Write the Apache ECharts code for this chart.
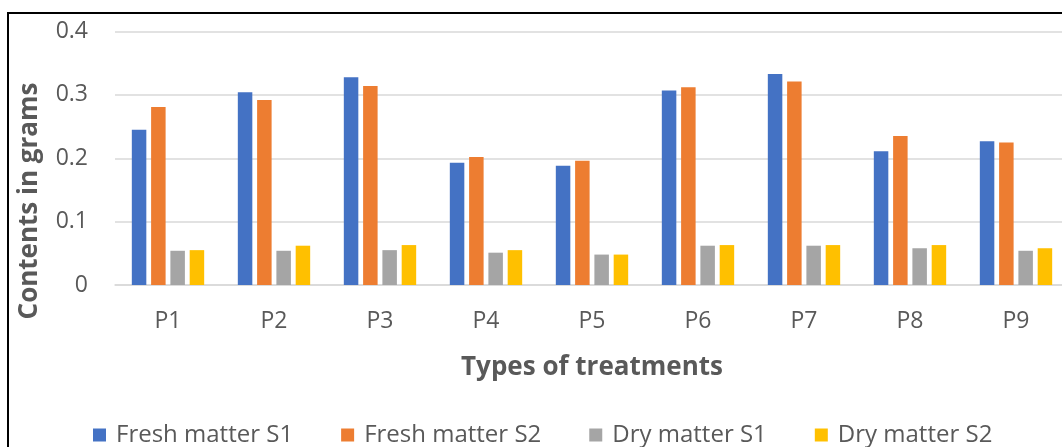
<!DOCTYPE html>
<html>
<head>
<meta charset="utf-8">
<script src="https://cdn.jsdelivr.net/npm/echarts@6/dist/echarts.min.js"></script>
<style>
  html, body { margin: 0; padding: 0; background: #fff; overflow: hidden; }
  #main { width: 1080px; height: 447px; }
</style>
</head>
<body>
<div id="main"></div>
<script>
var categories = ["P1", "P2", "P3", "P4", "P5", "P6", "P7", "P8", "P9"];
var freshS1 = [0.245, 0.304, 0.328, 0.193, 0.188, 0.307, 0.333, 0.211, 0.227];
var freshS2 = [0.281, 0.292, 0.314, 0.202, 0.196, 0.312, 0.321, 0.235, 0.225];
var dryS1 = [0.054, 0.054, 0.055, 0.051, 0.048, 0.062, 0.062, 0.058, 0.054];
var dryS2 = [0.055, 0.062, 0.063, 0.055, 0.048, 0.063, 0.063, 0.063, 0.058];
var yTicks = [0, 0.1, 0.2, 0.3, 0.4];

var fontName = "Open Sans";
var grey = "#595959";

function bar(name, data, color) {
  return {
    name: name,
    type: "bar",
    data: data,
    barWidth: 14.5,
    barGap: "33%",
    itemStyle: { color: color }
  };
}

var chart = echarts.init(document.getElementById("main"));
chart.setOption({
  animation: false,
  textStyle: { fontFamily: fontName },
  grid: { left: 115, top: 31.5, width: 954, height: 253.5 },
  legend: {
    left: 88,
    top: 418,
    itemWidth: 13,
    itemHeight: 13,
    itemGap: 48,
    icon: "rect",
    textStyle: { fontSize: 24, color: grey, fontFamily: fontName, padding: [0, 0, 0, 5] }
  },
  xAxis: {
    type: "category",
    data: categories,
    name: "Types of treatments",
    nameLocation: "middle",
    nameGap: 70,
    nameTextStyle: { fontSize: 26, fontWeight: "bold", color: grey },
    axisLine: { lineStyle: { color: "#d9d9d9", width: 1.5 } },
    axisTick: { show: false },
    axisLabel: { fontSize: 23, color: grey, margin: 25 }
  },
  yAxis: {
    type: "value",
    min: yTicks[0],
    max: yTicks[yTicks.length - 1],
    interval: 0.1,
    axisLine: { show: false },
    axisTick: { show: false },
    axisLabel: { fontSize: 23, color: grey, margin: 27 },
    splitLine: { lineStyle: { color: "#d9d9d9", width: 1.5 } }
  },
  graphic: [
    {
      type: "rect",
      shape: { x: 8, y: 13, width: 1200, height: 600 },
      style: { fill: null, stroke: "#000", lineWidth: 2 },
      silent: true
    },
    {
      type: "text",
      x: 30,
      y: 201,
      rotation: Math.PI / 2,
      style: {
        text: "Contents in grams",
        fontSize: 26,
        fontWeight: "bold",
        fill: grey,
        fontFamily: fontName,
        align: "center",
        verticalAlign: "middle"
      }
    }
  ],
  series: [
    bar("Fresh matter S1", freshS1, "#4472C4"),
    bar("Fresh matter S2", freshS2, "#ED7D31"),
    bar("Dry matter S1", dryS1, "#A5A5A5"),
    bar("Dry matter S2", dryS2, "#FFC000")
  ]
});
</script>
</body>
</html>
